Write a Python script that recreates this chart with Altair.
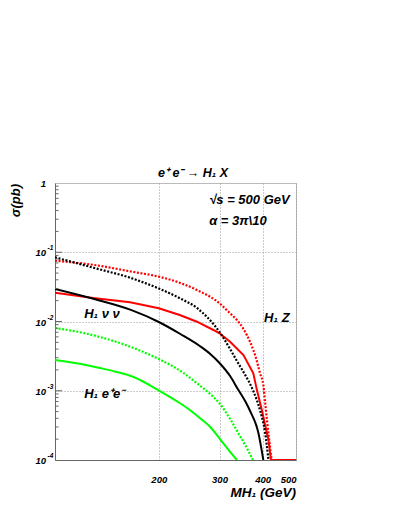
import altair as alt
import pandas as pd

# ---- data (mass in GeV, cross-section in pb) ----
hz_dot_m = [100, 130, 166, 200, 231, 258, 300, 322, 337, 352, 360, 376, 385, 393, 402, 407, 418, 425]
hz_dot_s = [0.0755, 0.0655, 0.0527, 0.0444, 0.0360, 0.0285, 0.0183, 0.0131, 0.0105, 0.0078, 0.00638,
            0.00387, 0.00269, 0.0018, 0.00121, 0.000665, 0.000195, 0.0001]

hz_sol_m = [100, 129, 165, 200, 230, 258, 288, 300, 322, 352, 376, 385, 398, 416, 423, 460, 500]
hz_sol_s = [0.0261, 0.0218, 0.0189, 0.0155, 0.0124, 0.00993, 0.00754, 0.00676, 0.00511, 0.00328,
            0.00179, 0.00103, 0.000527, 0.000195, 0.0001, 0.0001, 0.0001]

hnn_dot_m = [100, 130, 166, 200, 231, 258, 300, 322, 337, 352, 376, 393, 407, 416]
hnn_dot_s = [0.0845, 0.0593, 0.0425, 0.0300, 0.0215, 0.0157, 0.00705, 0.00401, 0.00269, 0.00187,
             0.00099, 0.000527, 0.000245, 0.0001]

hnn_sol_m = [100, 130, 166, 200, 231, 263, 282, 300, 322, 339, 356, 368, 389, 402]
hnn_sol_s = [0.0295, 0.0211, 0.0147, 0.00984, 0.0066, 0.00443, 0.0034, 0.00252, 0.00163, 0.00106,
             0.000711, 0.00051, 0.000245, 0.0001]

hee_dot_m = [100, 121, 135, 151, 169, 200, 236, 263, 282, 301, 322, 344, 360, 375]
hee_dot_s = [0.00805, 0.00682, 0.00597, 0.00506, 0.00414, 0.00287, 0.0018, 0.00119, 0.000897,
             0.000644, 0.000391, 0.000222, 0.000149, 0.0001]

hee_sol_m = [100, 121, 135, 151, 169, 200, 230, 246, 263, 282, 301, 322, 337]
hee_sol_s = [0.00278, 0.00239, 0.00213, 0.00187, 0.00158, 0.00101, 0.000665, 0.000527, 0.000404,
             0.0003, 0.000201, 0.000131, 0.0001]

series_names = ["HZ dotted", "HZ solid", "Hnn dotted", "Hnn solid", "Hee dotted", "Hee solid"]
series_colors = ["#ff0000", "#ff0000", "#000000", "#000000", "#00ff00", "#00ff00"]
series_dotted = [True, False, True, False, True, False]

x_ticks = [200, 300, 400, 500]
y_grid = [1e-1, 1e-2, 1e-3]
y_decades = [1, 1e-1, 1e-2, 1e-3, 1e-4]
y_decade_base = ["1", "10", "10", "10", "10"]
y_decade_exp = ["", "-1", "-2", "-3", "-4"]

ann_text = ["\u221as = 500 GeV", "\u03b1 = 3\u03c0\\10", "H\u2081 Z", "H\u2081 \u03bd \u03bd", "H\u2081 e\u207ae\u207b"]
ann_m = [280, 280, 404, 121.5, 121.5]
ann_s = [0.568, 0.283, 0.0112, 0.0128, 0.000897]

FONT = "Liberation Sans"

rows = []
for name, ms, ss in zip(series_names,
                        [hz_dot_m, hz_sol_m, hnn_dot_m, hnn_sol_m, hee_dot_m, hee_sol_m],
                        [hz_dot_s, hz_sol_s, hnn_dot_s, hnn_sol_s, hee_dot_s, hee_sol_s]):
    for m, s in zip(ms, ss):
        rows.append({"m": m, "s": s, "series": name})
df = pd.DataFrame(rows)

xs = alt.Scale(type="log", domain=[100, 500])
ys = alt.Scale(type="log", domain=[1e-4, 1])
x_axis = alt.Axis(values=x_ticks, format="d", grid=True, gridDash=[1, 2], gridColor="#999",
                  gridWidth=1, domainColor="#666", ticks=False, labelFont=FONT,
                  labelFontSize=9.5, labelFontStyle="italic", labelFontWeight="bold",
                  labelColor="#000", labelPadding=14)
y_axis = alt.Axis(values=y_grid, grid=True, gridDash=[1, 2], gridColor="#999", gridWidth=1,
                  domainColor="#666", ticks=False, labels=False)
X = alt.X("m:Q", scale=xs, title=None, axis=x_axis)
Y = alt.Y("s:Q", scale=ys, title=None, axis=y_axis)

layers = []
for name, col, dotted in zip(series_names, series_colors, series_dotted):
    sub = df[df.series == name]
    kw = dict(color=col, strokeWidth=2.2 if dotted else 2, clip=True,
              interpolate="linear" if name == "HZ solid" else "monotone")
    if dotted:
        kw["strokeDash"] = [2, 1.6]
    layers.append(alt.Chart(sub).mark_line(**kw).encode(x=X, y=Y))

# y-axis inward ticks
minor = []
for d in [1e-4, 1e-3, 1e-2, 1e-1]:
    for k in range(2, 10):
        minor.append(d * k)
tick_major = alt.Chart(pd.DataFrame({"s": y_grid})).mark_rule(color="#666", strokeWidth=1).encode(
    y=Y, x=alt.value(0), x2=alt.value(7))
tick_minor = alt.Chart(pd.DataFrame({"s": minor})).mark_rule(color="#666", strokeWidth=1).encode(
    y=Y, x=alt.value(0), x2=alt.value(3.5))
layers += [tick_major, tick_minor]

# y tick labels with superscripts
ylab = pd.DataFrame({"s": y_decades, "base": y_decade_base, "exp": y_decade_exp})
layers.append(alt.Chart(ylab).mark_text(font=FONT, fontSize=9.5, fontStyle="italic", fontWeight="bold",
                                        align="right", baseline="middle", dy=1, color="#000").encode(
    y=Y, x=alt.value(-9), text="base:N"))
layers.append(alt.Chart(ylab).mark_text(font=FONT, fontSize=6.5, fontStyle="italic", fontWeight="bold",
                                        align="left", baseline="middle", dy=-4, color="#000").encode(
    y=Y, x=alt.value(-7.5), text="exp:N"))

# annotations
ann = pd.DataFrame({"m": ann_m, "s": ann_s, "t": ann_text})
layers.append(alt.Chart(ann).mark_text(font=FONT, fontSize=13, fontStyle="italic", fontWeight="bold",
                                       align="left", baseline="middle", color="#000").encode(
    x=X, y=Y, text="t:N"))

# titles
layers.append(alt.Chart(pd.DataFrame({"t": ["e\u207a e\u207b \u2192 H\u2081 X"]})).mark_text(
    font=FONT, fontSize=12.5, fontStyle="italic", fontWeight="bold", align="center",
    baseline="alphabetic", color="#000").encode(x=alt.value(138), y=alt.value(-6), text="t:N"))
layers.append(alt.Chart(pd.DataFrame({"t": ["\u03c3(pb)"]})).mark_text(
    font=FONT, fontSize=13, fontStyle="italic", fontWeight="bold", align="right", angle=270,
    baseline="middle", color="#000").encode(x=alt.value(-39), y=alt.value(1), text="t:N"))
layers.append(alt.Chart(pd.DataFrame({"t": ["MH\u2081 (GeV)"]})).mark_text(
    font=FONT, fontSize=13.5, fontStyle="italic", fontWeight="bold", align="right",
    baseline="alphabetic", color="#000").encode(x=alt.value(241), y=alt.value(314), text="t:N"))

chart = alt.layer(*layers).properties(
    width=241, height=277,
    autosize=alt.AutoSizeParams(type="none"),
    padding={"left": 47, "top": 175, "right": 80, "bottom": 45},
).configure_view(stroke="#bbb", strokeWidth=1)

chart.save("out.html", embed_options={"renderer": "svg", "actions": False})
